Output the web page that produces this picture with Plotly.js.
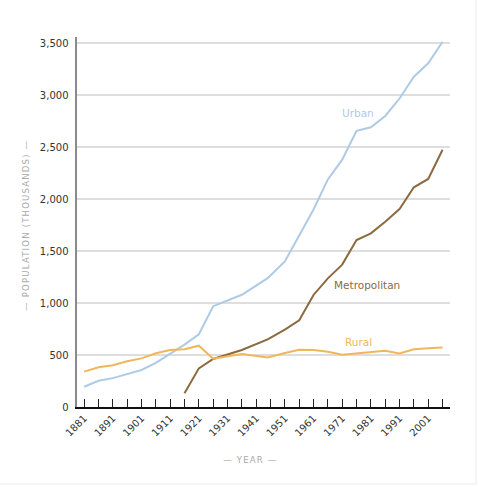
<!DOCTYPE html>
<html>
<head>
<meta charset="utf-8">
<script src="https://cdn.plot.ly/plotly-3.0.1.min.js"></script>
<style>
  html, body { margin: 0; padding: 0; background: #fff; }
  #chart { width: 478px; height: 487px; }
</style>
</head>
<body>
<div id="chart"></div>
<script>
// Census years and population (thousands)
const years = [1881, 1886, 1891, 1896, 1901, 1906, 1911, 1916, 1921, 1926, 1936, 1945,
               1951, 1956, 1961, 1966, 1971, 1976, 1981, 1986, 1991, 1996, 2001, 2006];
const urban = [195, 253, 278, 317, 356, 425, 516, 600, 700, 970, 1080, 1240,
               1400, 1650, 1900, 2190, 2380, 2657, 2692, 2800, 2968, 3178, 3307, 3515];
const metropolitan = [null, null, null, null, null, null, null, 132, 372, 462, 548, 651,
                      745, 835, 1078, 1238, 1370, 1607, 1671, 1783, 1905, 2114, 2194, 2475];
const rural = [340, 382, 401, 440, 468, 517, 548, 555, 590, 465, 510, 476,
               520, 551, 548, 532, 503, 516, 526, 542, 516, 555, 565, 572];

// Tick marks every five years, labelled every ten
const tickYears = [];
for (let y = 1881; y <= 2006; y += 5) tickYears.push(y);
const tickLabels = tickYears.map(y => ((y - 1881) % 10 === 0 ? String(y) : ''));

const colors = { urban: '#aecae6', metropolitan: '#8c6a40', rural: '#f0b75a' };

const font = 'DejaVu Sans, Verdana, sans-serif';

const traces = [
  { x: years, y: urban, name: 'Urban', mode: 'lines',
    line: { color: colors.urban, width: 2 } },
  { x: years, y: metropolitan, name: 'Metropolitan', mode: 'lines',
    line: { color: colors.metropolitan, width: 2 } },
  { x: years, y: rural, name: 'Rural', mode: 'lines',
    line: { color: colors.rural, width: 2 } }
];

const layout = {
  width: 478, height: 487,
  margin: { l: 77, r: 28, t: 37, b: 80 },
  paper_bgcolor: '#fff', plot_bgcolor: '#fff',
  showlegend: false,
  font: { family: font, size: 10, color: '#333' },
  xaxis: {
    range: [1878.5, 2008.6],
    tickmode: 'array', tickvals: tickYears, ticktext: tickLabels,
    ticks: 'inside', ticklen: 8, tickwidth: 1.2, tickcolor: '#222',
    tickangle: -45, tickfont: { family: font, size: 10, color: '#333' },
    showgrid: false, zeroline: false,
    showline: true, linecolor: '#111', linewidth: 1.5
  },
  yaxis: {
    range: [0, 3560],
    tickmode: 'array',
    tickvals: [0, 500, 1000, 1500, 2000, 2500, 3000, 3500],
    ticktext: ['0', '500', '1,000', '1,500', '2,000', '2,500', '3,000', '3,500'],
    ticks: '', ticklabelstandoff: 4,
    tickfont: { family: font, size: 10, color: '#333' },
    showgrid: true, gridcolor: '#dedede', gridwidth: 1.5,
    zeroline: false,
    showline: true, linecolor: '#8a8a8a', linewidth: 2.5
  },
  annotations: [
    { text: 'Urban', x: 1976.6, y: 2829, xref: 'x', yref: 'y', showarrow: false,
      font: { family: font, size: 10.5, color: colors.urban } },
    { text: 'Metropolitan', x: 1979.7, y: 1174, xref: 'x', yref: 'y', showarrow: false,
      font: { family: font, size: 10.5, color: colors.metropolitan } },
    { text: 'Rural', x: 1976.6, y: 625, xref: 'x', yref: 'y', showarrow: false,
      font: { family: font, size: 10.5, color: colors.rural } },
    { text: '— YEAR —', xref: 'paper', yref: 'paper', x: 0.464, y: -0.143,
      xanchor: 'center', yanchor: 'middle', showarrow: false,
      font: { family: font, size: 8.5, color: '#aaaaaa' } },
    { text: '— POPULATION (THOUSANDS) —', xref: 'paper', yref: 'paper',
      x: -0.138, y: 0.49, textangle: -90,
      xanchor: 'center', yanchor: 'middle', showarrow: false,
      font: { family: font, size: 8.5, color: '#aaaaaa' } }
  ],
  shapes: [
    { type: 'line', xref: 'paper', yref: 'paper',
      x0: (476 - 77) / 373, x1: (476 - 77) / 373, y0: 1.1, y1: (407 - 484) / 370,
      line: { color: '#ececec', width: 1 } },
    { type: 'line', xref: 'paper', yref: 'paper',
      x0: -0.3, x1: (476 - 77) / 373, y0: (407 - 484) / 370, y1: (407 - 484) / 370,
      line: { color: '#ececec', width: 1 } }
  ]
};

Plotly.newPlot('chart', traces, layout, { displayModeBar: false, staticPlot: true })
  .then(() => {
    // Spread the letters of the two axis captions
    document.querySelectorAll('.annotation-text').forEach(el => {
      if (/YEAR|POPULATION/.test(el.textContent)) el.style.letterSpacing = '1.2px';
    });
  });
</script>
</body>
</html>
